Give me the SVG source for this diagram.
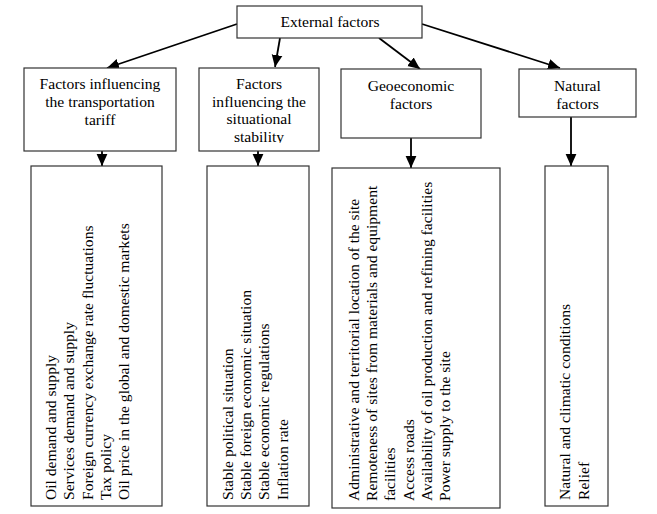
<svg xmlns="http://www.w3.org/2000/svg" width="657" height="514" viewBox="0 0 657 514">
<style>
.box{fill:#fff;stroke:#333;stroke-width:1.2}
.t{font-family:"Liberation Serif","Times New Roman",serif;font-size:15.6px;fill:#000}
.c{text-anchor:middle}
.conn{stroke:#000;stroke-width:1.8;fill:none;marker-end:url(#ah)}
</style>
<defs>
<marker id="ah" markerUnits="userSpaceOnUse" markerWidth="12" markerHeight="12" viewBox="0 0 10 10" refX="10" refY="5" orient="auto">
<path d="M0,0.5 L10,5 L0,9.5 Z" fill="#000"/>
</marker>
<clipPath id="clip2"><rect x="199" y="68" width="120" height="75"/></clipPath>
</defs>
<rect width="657" height="514" fill="#fff"/>
<g id="connectors">
<line class="conn" x1="237" y1="24" x2="107" y2="68"/>
<line class="conn" x1="280" y1="38" x2="275" y2="67"/>
<line class="conn" x1="379" y1="38" x2="420" y2="69"/>
<line class="conn" x1="422" y1="24" x2="560" y2="68"/>
<line class="conn" x1="102" y1="151" x2="102" y2="166"/>
<line class="conn" x1="258" y1="151" x2="258" y2="166"/>
<line class="conn" x1="411" y1="138" x2="411" y2="168"/>
<line class="conn" x1="571" y1="117" x2="571" y2="166"/>
</g>
<g id="external">
<rect class="box" x="237" y="6" width="185" height="32"/>
<text class="t c" x="330" y="27">External factors</text>
</g>
<g id="tariff">
<rect class="box" x="24" y="68" width="152" height="83"/>
<text class="t c" x="100" y="89">Factors influencing</text>
<text class="t c" x="100" y="107">the transportation</text>
<text class="t c" x="100" y="125">tariff</text>
</g>
<g id="stability">
<rect class="box" x="199" y="68" width="120" height="83"/>
<g clip-path="url(#clip2)">
<text class="t c" x="259" y="89">Factors</text>
<text class="t c" x="259" y="106.5">influencing the</text>
<text class="t c" x="259" y="124">situational</text>
<text class="t c" x="259" y="142">stability</text>
</g>
</g>
<g id="geoeconomic">
<rect class="box" x="341" y="69" width="140" height="69"/>
<text class="t c" x="411" y="91">Geoeconomic</text>
<text class="t c" x="411" y="109">factors</text>
</g>
<g id="natural">
<rect class="box" x="519" y="69" width="117" height="48"/>
<text class="t c" x="577.5" y="91">Natural</text>
<text class="t c" x="577.5" y="109">factors</text>
</g>
<g id="tariff-list">
<rect class="box" x="31" y="166" width="131" height="340"/>
<text class="t" transform="translate(56,500) rotate(-90)">
<tspan x="0" y="0">Oil demand and supply</tspan>
<tspan x="0" y="18.33">Services demand and supply</tspan>
<tspan x="0" y="36.66">Foreign currency exchange rate fluctuations</tspan>
<tspan x="0" y="55">Tax policy</tspan>
<tspan x="0" y="73.33">Oil price in the global and domestic markets</tspan>
</text>
</g>
<g id="stability-list">
<rect class="box" x="207" y="166" width="102" height="340"/>
<text class="t" transform="translate(232.7,500) rotate(-90)">
<tspan x="0" y="0">Stable political situation</tspan>
<tspan x="0" y="18.33">Stable foreign economic situation</tspan>
<tspan x="0" y="36.66">Stable economic regulations</tspan>
<tspan x="0" y="55">Inflation rate</tspan>
</text>
</g>
<g id="geoeconomic-list">
<rect class="box" x="332" y="168" width="168" height="340"/>
<text class="t" transform="translate(358.7,501) rotate(-90)">
<tspan x="0" y="0">Administrative and territorial location of the site</tspan>
<tspan x="0" y="18.33">Remoteness of sites from materials and equipment</tspan>
<tspan x="0" y="36.66">facilities</tspan>
<tspan x="0" y="55">Access roads</tspan>
<tspan x="0" y="73.33">Availability of oil production and refining facilities</tspan>
<tspan x="0" y="91.66">Power supply to the site</tspan>
</text>
</g>
<g id="natural-list">
<rect class="box" x="545" y="166" width="63" height="340"/>
<text class="t" transform="translate(570.3,500) rotate(-90)">
<tspan x="0" y="0">Natural and climatic conditions</tspan>
<tspan x="0" y="18.33">Relief</tspan>
</text>
</g>
</svg>
